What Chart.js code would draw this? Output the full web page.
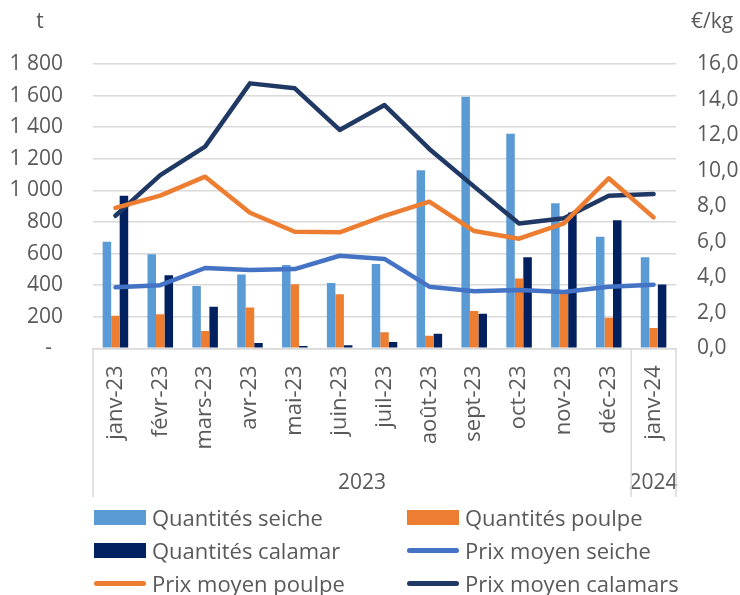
<!DOCTYPE html>
<html lang="fr">
<head>
<meta charset="utf-8">
<title>Quantités et prix moyens – seiche, poulpe, calamar</title>
<script src="https://cdn.jsdelivr.net/npm/chart.js@4.4.1/dist/chart.umd.min.js"></script>
<style>
  html, body { margin: 0; padding: 0; background: #fff; }
  #wrap { position: relative; width: 740px; height: 595px; }
  #chart { position: absolute; left: 0; top: 0; }
  .lg-item {
    position: absolute;
    display: flex;
    align-items: center;
    height: 30px;
    font: 22px "Open Sans", sans-serif;
    color: #595959;
    white-space: nowrap;
  }
  .lg-swatch { width: 52px; margin-right: 6px; }
  .lg-box  { height: 15px; }
  .lg-line { height: 5px; border-radius: 3px; }
</style>
</head>
<body>
<div id="wrap">
  <canvas id="chart" width="740" height="595"></canvas>
  <div id="legend"></div>
</div>
<script>
// ── data ────────────────────────────────────────────────────────────────────
const months = ['janv-23', 'févr-23', 'mars-23', 'avr-23', 'mai-23', 'juin-23',
                'juil-23', 'août-23', 'sept-23', 'oct-23', 'nov-23', 'déc-23', 'janv-24'];
const yearLabels = ['2023', '2024'];
const yearSpans  = [12, 1];

// tonnes
const qtySeiche  = [675, 595, 395, 467, 528, 414, 533, 1128, 1592, 1358, 918, 707, 577];
const qtyPoulpe  = [206, 215, 109, 259, 406, 343, 101,   80,  236,  442, 350, 193, 128];
const qtyCalamar = [966, 463, 263,  33,  14,  20,  40,   92,  219,  577, 860, 810, 404];

// €/kg
const prixSeiche  = [3.43, 3.55, 4.52, 4.41, 4.46, 5.21, 5.03, 3.47, 3.21, 3.28, 3.17, 3.47, 3.58];
const prixPoulpe  = [7.90, 8.59, 9.66, 7.63, 6.56, 6.53, 7.45, 8.25, 6.60, 6.17, 7.03, 9.57, 7.37];
const prixCalamar = [7.46, 9.75, 11.35, 14.91, 14.63, 12.29, 13.69, 11.22, 9.10, 7.02, 7.32, 8.59, 8.68];

const leftTicks  = { min: 0, max: 1800, step: 200 };
const rightTicks = { min: 0, max: 16, step: 2 };
const unitLeft  = 't';
const unitRight = '€/kg';

// ── style ───────────────────────────────────────────────────────────────────
const FONT  = '"Open Sans", sans-serif';
const TEXT  = '#595959';
const GRID  = '#d9d9d9';

const C_SEICHE_BAR   = '#5b9bd5';
const C_POULPE       = '#ed7d31';
const C_CALAMAR_BAR  = '#002060';
const C_SEICHE_LINE  = '#4472c4';
const C_CALAMAR_LINE = '#203864';

const AREA = { left: 93, right: 676, top: 64, bottom: 348.3, boxBottom: 497 };

function bar(label, data, color) {
  return {
    type: 'bar', label, data, yAxisID: 'y', order: 2,
    backgroundColor: color, borderWidth: 0,
    barPercentage: 1.0, categoryPercentage: 0.57,
  };
}

function line(label, data, color) {
  return {
    type: 'line', label, data, yAxisID: 'y1', order: 1,
    borderColor: color, backgroundColor: color, borderWidth: 4.5,
    pointRadius: 0, tension: 0, fill: false,
    borderCapStyle: 'round', borderJoinStyle: 'round',
  };
}

const datasets = [
  bar('Quantités seiche', qtySeiche, C_SEICHE_BAR),
  bar('Quantités poulpe', qtyPoulpe, C_POULPE),
  bar('Quantités calamar', qtyCalamar, C_CALAMAR_BAR),
  line('Prix moyen seiche', prixSeiche, C_SEICHE_LINE),
  line('Prix moyen poulpe', prixPoulpe, C_POULPE),
  line('Prix moyen calamars', prixCalamar, C_CALAMAR_LINE),
];

// Multi-level category axis (years under months) + unit labels above the axes
const extrasPlugin = {
  id: 'extras',
  afterDraw(chart) {
    const { ctx, chartArea, scales } = chart;
    const x = scales.x;
    const half = (x.getPixelForValue(1) - x.getPixelForValue(0)) / 2;
    ctx.save();
    ctx.strokeStyle = GRID;
    ctx.lineWidth = 1.5;
    ctx.fillStyle = TEXT;
    ctx.font = '21px ' + FONT;
    ctx.textAlign = 'center';
    ctx.textBaseline = 'middle';

    let start = 0;
    const edges = [chartArea.left];
    yearLabels.forEach((lab, i) => {
      const end = start + yearSpans[i] - 1;
      const x0 = x.getPixelForValue(start) - half;
      const x1 = x.getPixelForValue(end) + half;
      edges.push(x1);
      ctx.fillText(lab, (x0 + x1) / 2, 483);
      start = end + 1;
    });
    edges.forEach((ex) => {
      ctx.beginPath();
      ctx.moveTo(ex, chartArea.bottom);
      ctx.lineTo(ex, AREA.boxBottom);
      ctx.stroke();
    });

    ctx.fillText(unitLeft, 40, 22);
    ctx.fillText(unitRight, 712, 22);
    ctx.restore();
  },
};

const tickFont  = { family: FONT, size: 21 };
const monthFont = { family: FONT, size: 22 };

new Chart(document.getElementById('chart'), {
  data: { labels: months, datasets },
  plugins: [extrasPlugin],
  options: {
    responsive: false,
    animation: false,
    layout: { padding: { left: 0, right: 0, top: AREA.top, bottom: 595 - AREA.boxBottom } },
    plugins: { legend: { display: false }, tooltip: { enabled: false } },
    scales: {
      x: {
        grid: { display: false, drawTicks: false },
        border: { display: true, color: GRID, width: 1.5 },
        ticks: {
          color: TEXT, font: monthFont, autoSkip: false,
          minRotation: 90, maxRotation: 90, padding: 17,
        },
        afterFit: (s) => { s.height = AREA.boxBottom - AREA.bottom; },
      },
      y: {
        position: 'left',
        min: leftTicks.min, max: leftTicks.max,
        grid: { color: GRID, lineWidth: 1.5, drawTicks: false },
        border: { display: false },
        ticks: {
          stepSize: leftTicks.step, color: TEXT, font: tickFont, padding: 30,
          callback: (v) => v === 0 ? '-  ' : String(v).replace(/\B(?=(\d{3})+(?!\d))/g, ' '),
        },
        afterFit: (s) => { s.width = AREA.left; },
      },
      y1: {
        position: 'right',
        min: rightTicks.min, max: rightTicks.max,
        grid: { display: false, drawTicks: false },
        border: { display: false },
        ticks: {
          stepSize: rightTicks.step, color: TEXT, font: tickFont, padding: 21,
          callback: (v) => v.toFixed(1).replace('.', ','),
        },
        afterFit: (s) => { s.width = 740 - AREA.right; },
      },
    },
  },
});

// ── legend (two columns, row-major, like the reference) ─────────────────────
const legendCols = [94, 407];
const legendRows = [517, 550, 583];
const legendEl = document.getElementById('legend');
datasets.forEach((ds, i) => {
  const item = document.createElement('div');
  item.className = 'lg-item';
  item.style.left = legendCols[i % 2] + 'px';
  item.style.top = (legendRows[Math.floor(i / 2)] - 15) + 'px';
  const sw = document.createElement('span');
  sw.className = 'lg-swatch ' + (ds.type === 'bar' ? 'lg-box' : 'lg-line');
  sw.style.background = ds.type === 'bar' ? ds.backgroundColor : ds.borderColor;
  item.appendChild(sw);
  item.appendChild(document.createTextNode(ds.label));
  legendEl.appendChild(item);
});
</script>
</body>
</html>
